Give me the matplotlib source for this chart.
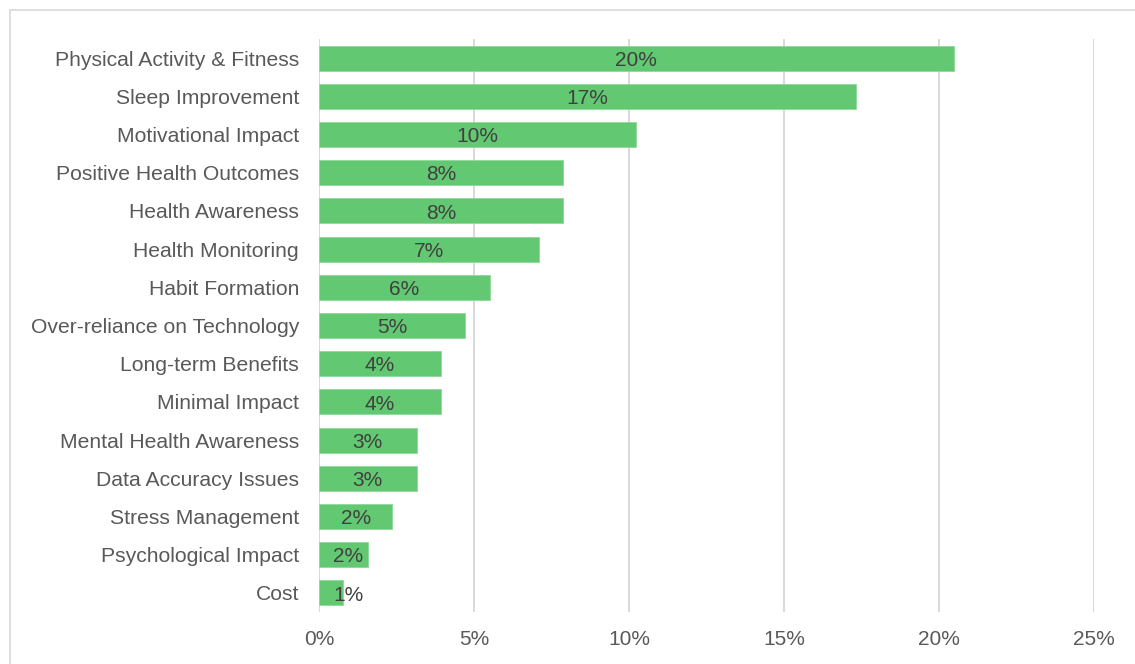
import matplotlib
matplotlib.use("Agg")
import matplotlib.pyplot as plt
from matplotlib.patches import Rectangle

categories = [
    "Physical Activity & Fitness", "Sleep Improvement", "Motivational Impact",
    "Positive Health Outcomes", "Health Awareness", "Health Monitoring",
    "Habit Formation", "Over-reliance on Technology", "Long-term Benefits",
    "Minimal Impact", "Mental Health Awareness", "Data Accuracy Issues",
    "Stress Management", "Psychological Impact", "Cost",
]
shares = [20.47, 17.32, 10.24, 7.87, 7.87, 7.09, 5.51, 4.72, 3.94, 3.94,
          3.15, 3.15, 2.36, 1.57, 0.79]
x_ticks = [0, 5, 10, 15, 20, 25]

BAR = "#63C872"
GRID = "#D9D9D9"
TXT = "#595959"
LBL = "#404040"
narrow = ["Liberation Sans Narrow", "Liberation Sans", "DejaVu Sans"]
regular = ["Liberation Sans", "DejaVu Sans"]

fig = plt.figure(figsize=(11.35, 6.64), dpi=100)
W, H = 1135, 664
ax = fig.add_axes([319 / W, 1 - 612 / H, (1094 - 319) / W, (612 - 39) / H])

# chart frame
fig.patches.append(Rectangle((9.5 / W, -0.05), 1.2, 1 - 9.5 / H + 0.05,
                             transform=fig.transFigure, fill=False,
                             edgecolor=GRID, linewidth=1.2))

ypos = list(range(len(categories)))
ax.barh(ypos, shares, height=0.65, color=BAR, edgecolor="#8FD89A",
        linewidth=0.6, zorder=3)

for y, v in zip(ypos, shares):
    ax.text(max(v / 2, 0.95), y + 0.06, f"{v:.0f}%", ha="center", va="center",
            fontsize=15, color=LBL, family=narrow, zorder=4)

ax.set_xlim(0, 25)
ax.set_ylim(len(categories) - 0.5, -0.5)
ax.set_xticks(x_ticks)
ax.set_xticklabels([f"{t}%" for t in x_ticks], family=narrow,
                   fontsize=15, color=TXT)
ax.set_yticks(ypos)
ax.set_yticklabels(categories, family=regular, fontsize=15.2, color=TXT)
ax.tick_params(axis="both", length=0)
ax.tick_params(axis="y", pad=14.4)
ax.tick_params(axis="x", pad=13)
ax.grid(axis="x", color=GRID, linewidth=1.4, zorder=0)
for s in ax.spines.values():
    s.set_visible(False)

fig.savefig("out.png", dpi=100)
